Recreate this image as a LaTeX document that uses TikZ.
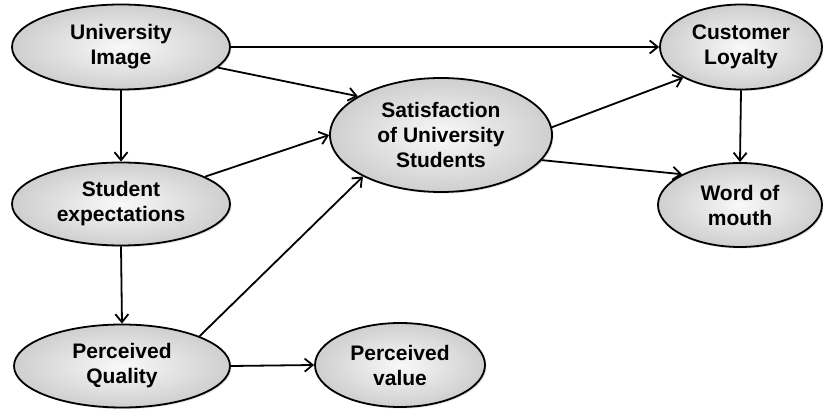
\documentclass[tikz,border=0pt]{standalone}
\usepackage{fontspec}
\setmainfont{Liberation Sans}
\usetikzlibrary{shapes.geometric,arrows.meta,shadows}

\tikzset{
  construct/.style={ellipse, draw, line width=1.8pt, inner sep=0pt,
    inner color=gray!5, outer color=gray!38,
    drop shadow={shadow xshift=1.5pt, shadow yshift=-1.5pt, opacity=0.25},
    align=center, font=\fontsize{21}{25}\selectfont\bfseries},
  link/.style={-{Straight Barb[length=8pt,width=13pt]}, line width=1.8pt}
}

\begin{document}
\begin{tikzpicture}[x=1pt, y=-1pt]
    \useasboundingbox (0,0) rectangle (823,411);

    \node [construct, minimum width=218, minimum height=85] (image) at (121,47) {University\\Image};
    \node [construct, minimum width=218, minimum height=83] (expect) at (121,204) {Student\\expectations};
    \node [construct, minimum width=216, minimum height=83] (quality) at (122,366) {Perceived\\Quality};
    \node [construct, minimum width=170, minimum height=84] (value) at (400,365) {Perceived\\value};
    \node [construct, minimum width=222, minimum height=114] (satisf) at (441,135) {Satisfaction\\of University\\Students};
    \node [construct, minimum width=162, minimum height=85] (loyalty) at (741,47) {Customer\\Loyalty};
    \node [construct, minimum width=164, minimum height=84] (mouth) at (740,205) {Word of\\mouth};

    \draw [link] (image.east) -- (loyalty.west);
    \draw [link] (image.-12) -- (satisf.155);
    \draw [link] (image.south) -- (expect.north);
    \draw [link] (expect.18) -- (satisf.180);
    \draw [link] (expect.south) -- (quality.north);
    \draw [link] (quality.21) -- (satisf.208);
    \draw [link] (quality.east) -- (value.west);
    \draw [link] (satisf.4) -- (loyalty.208);
    \draw [link] (satisf.-14) -- (mouth.152);
    \draw [link] (loyalty.south) -- (mouth.north);
  \end{tikzpicture}
\end{document}
